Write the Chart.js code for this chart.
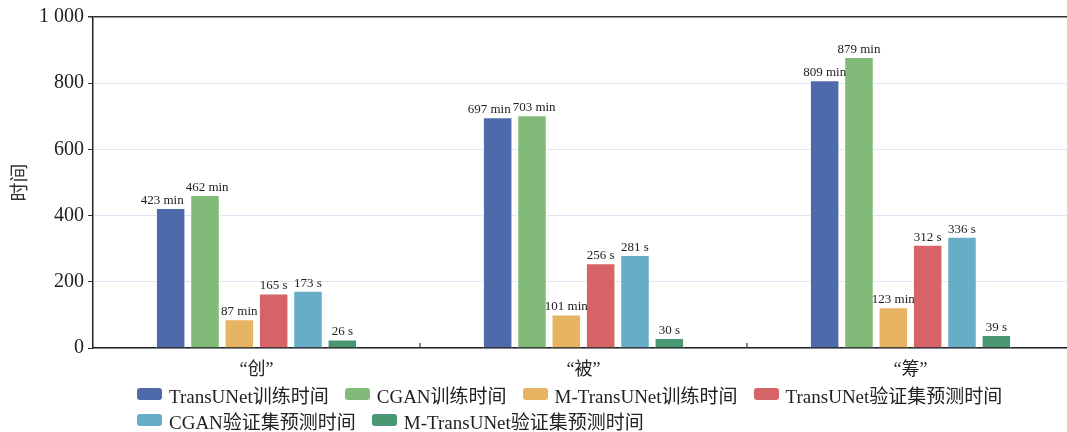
<!DOCTYPE html>
<html>
<head>
<meta charset="utf-8">
<script src="https://cdn.jsdelivr.net/npm/chart.js@4"></script>
<style>
  html, body { margin: 0; padding: 0; background: #fff; overflow: hidden; }
  #wrap { position: relative; width: 1075px; height: 432px; }
  #legend {
    position: absolute; left: 137px; top: 383px; width: 930px;
    display: flex; flex-wrap: wrap; row-gap: 2px;
    font: 19px "Liberation Serif", "Noto Sans CJK SC", serif; color: #222;
  }
  .item { display: flex; align-items: center; margin-right: 16px; height: 22px; }
  .box { width: 25px; height: 12px; border-radius: 3px; margin-right: 7px; }
  .brk { flex-basis: 100%; height: 0; }
</style>
</head>
<body>
<div id="wrap">
  <canvas id="chart" width="1075" height="432"></canvas>
  <div id="legend"></div>
</div>
<script>
const categories = ['“创”', '“被”', '“筹”'];
const seriesNames = [
  'TransUNet训练时间', 'CGAN训练时间', 'M-TransUNet训练时间',
  'TransUNet验证集预测时间', 'CGAN验证集预测时间', 'M-TransUNet验证集预测时间'
];
const transunetTrain = [423, 697, 809];
const cganTrain = [462, 703, 879];
const mTransunetTrain = [87, 101, 123];
const transunetPred = [165, 256, 312];
const cganPred = [173, 281, 336];
const mTransunetPred = [26, 30, 39];
const units = ['min', 'min', 'min', 's', 's', 's'];
const colors = ['#4f6aab', '#82bb79', '#e6b462', '#d66466', '#68adc8', '#4a9873'];
const yTicks = [0, 200, 400, 600, 800, 1000];

const serif = '"Liberation Serif", "Noto Sans CJK SC", serif';
const allValues = [transunetTrain, cganTrain, mTransunetTrain, transunetPred, cganPred, mTransunetPred];

// value labels over the bars, nudged left when two labels at similar height collide
const barLabels = {
  id: 'barLabels',
  afterDatasetsDraw(chart) {
    const ctx = chart.ctx;
    ctx.save();
    ctx.font = '13px ' + serif;
    ctx.fillStyle = '#222';
    ctx.textAlign = 'center';
    ctx.textBaseline = 'bottom';
    const n = chart.data.datasets.length;
    categories.forEach((c, j) => {
      const labs = [];
      for (let i = 0; i < n; i++) {
        const bar = chart.getDatasetMeta(i).data[j];
        const text = chart.data.datasets[i].data[j] + ' ' + units[i];
        labs.push({ text, x: bar.x, y: bar.y - 1, w: ctx.measureText(text).width });
      }
      for (let i = n - 2; i >= 0; i--) {
        const a = labs[i], b = labs[i + 1];
        if (Math.abs(a.y - b.y) < 14) {
          const gap = (b.x - b.w / 2) - (a.x + a.w / 2) - 2;
          if (gap < 0) { a.x += gap * 0.8; b.x -= gap * 0.2; }
        }
      }
      labs.forEach(l => ctx.fillText(l.text, l.x, l.y));
    });
    ctx.restore();
  }
};

// small ticks between categories, pointing up
const catTicks = {
  id: 'catTicks',
  afterDraw(chart) {
    const x = chart.scales.x, ctx = chart.ctx;
    ctx.save();
    ctx.strokeStyle = '#333';
    ctx.lineWidth = 1.2;
    for (let i = 1; i < categories.length; i++) {
      const px = (x.getPixelForTick(i - 1) + x.getPixelForTick(i)) / 2;
      ctx.beginPath();
      ctx.moveTo(px, x.top);
      ctx.lineTo(px, x.top - 5);
      ctx.stroke();
    }
    ctx.restore();
  }
};

const chart = new Chart('chart', {
  type: 'bar',
  data: {
    labels: categories,
    datasets: seriesNames.map((name, i) => ({
      label: name,
      data: allValues[i],
      backgroundColor: colors[i],
      borderColor: '#fff',
      borderWidth: 1,
      barPercentage: 0.86,
      categoryPercentage: 0.63
    }))
  },
  options: {
    responsive: false,
    devicePixelRatio: 1,
    animation: false,
    layout: { padding: { left: 10, top: 17, right: 1, bottom: 54 } },
    plugins: { legend: { display: false }, tooltip: { enabled: false } },
    scales: {
      x: {
        grid: { display: false },
        border: { color: '#222', width: 1.5 },
        ticks: { color: '#222', padding: 3, font: { family: serif, size: 18 } },
        afterFit: s => { s.height = 30; }
      },
      y: {
        min: 0, max: 1000,
        afterBuildTicks: s => { s.ticks = yTicks.map(v => ({ value: v })); },
        afterFit: s => { s.width = 83; },
        grid: {
          color: c => (c.tick && c.tick.value === 1000) ? '#333' : '#dce6f4',
          lineWidth: c => (c.tick && c.tick.value === 1000) ? 1.5 : 1,
          tickColor: '#333',
          tickLength: 5
        },
        border: { color: '#222', width: 1.5 },
        ticks: {
          color: '#222', padding: 4,
          font: { family: serif, size: 20 },
          callback: v => v === 1000 ? '1 000' : String(v)
        },
        title: {
          display: true, text: '时间', color: '#333',
          padding: 0,
          font: { family: serif, size: 19 }
        }
      }
    }
  },
  plugins: [barLabels, catTicks]
});

// legend in two rows, left aligned
const legend = document.getElementById('legend');
seriesNames.forEach((name, i) => {
  if (i === 4) {
    const b = document.createElement('div');
    b.className = 'brk';
    legend.appendChild(b);
  }
  const item = document.createElement('div');
  item.className = 'item';
  item.innerHTML = '<span class="box" style="background:' + colors[i] + '"></span>' + name;
  legend.appendChild(item);
});
</script>
</body>
</html>
